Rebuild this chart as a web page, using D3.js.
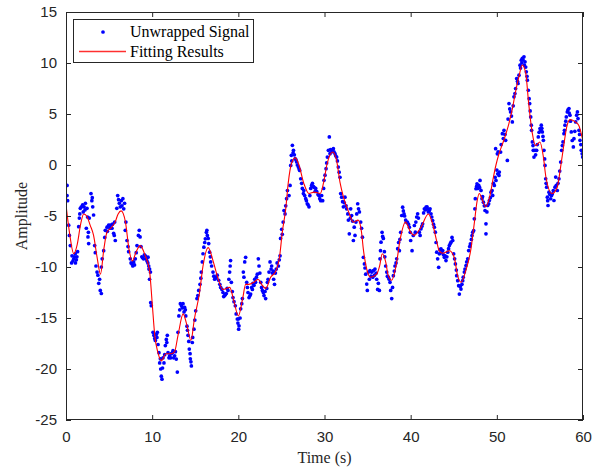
<!DOCTYPE html>
<html><head><meta charset="utf-8">
<script src="https://cdn.jsdelivr.net/npm/d3@7"></script>
<style>body{margin:0;background:#fff}svg{display:block}</style>
</head><body><svg id="c" width="601" height="468"></svg>
<script>
const xTicks=[0,10,20,30,40,50,60];
const yTicks=[-25,-20,-15,-10,-5,0,5,10,15];
const legendLabels=["Unwrapped Signal","Fitting Results"];
const xLabel="Time (s)", yLabel="Amplitude";

const fitTime=[0,0.4,0.9,1.3,1.7,2.05,2.4,2.8,3.2,3.6,4.0,4.4,4.75,5.3,5.7,6.05,6.4,6.9,7.3,7.7,8.1,8.6,9.2,9.7,10.0,10.3,10.7,11.06,11.6,12.2,12.6,13.0,13.6,14.0,14.5,14.9,15.5,15.9,16.5,17.1,17.6,18.2,19.0,19.5,20.0,20.5,20.85,21.2,21.8,22.3,22.7,23.2,23.75,24.3,24.8,25.1,25.5,25.8,26.15,26.6,27.0,27.6,28.2,28.8,29.5,29.9,30.3,30.95,31.4,31.8,32.2,32.8,33.35,33.9,34.3,34.5,34.9,35.35,36.05,36.4,36.7,37.1,37.4,37.8,38.3,38.8,39.4,40.0,40.4,41.2,42.05,42.55,43.0,43.3,43.7,44.5,45.05,45.45,45.85,46.4,47.0,47.4,47.7,47.96,48.35,48.7,49.2,49.6,49.9,50.25,50.8,51.4,51.8,52.2,52.6,52.95,53.35,53.7,54.1,54.5,55.0,55.4,55.7,56.4,57.0,57.4,57.8,58.1,58.5,59.15,59.5,59.9,60];
const fitAmp=[-3.9,-6.6,-8.7,-7.8,-5.8,-4.8,-5.0,-5.9,-6.9,-9.0,-10.7,-8.2,-6.6,-6.1,-5.6,-4.8,-4.5,-5.6,-8.2,-9.4,-8.6,-7.9,-8.9,-10.4,-13.5,-16.7,-18.5,-19.2,-18.5,-18.5,-18.3,-16.7,-14.6,-15.6,-17.2,-15.1,-12.5,-9.9,-8.1,-9.5,-11.0,-12.2,-12.0,-13.4,-14.8,-13.1,-11.7,-11.7,-11.5,-11.2,-11.7,-12.1,-11.0,-10.5,-8.9,-6.6,-4.3,-1.7,0.1,0.7,0.1,-1.8,-2.8,-2.66,-2.8,-1.7,0.1,1.27,0.45,-1.7,-3.15,-4.6,-5.6,-5.4,-6.6,-8.2,-10.2,-11.0,-10.7,-9.9,-8.7,-9.5,-10.85,-11.3,-9.9,-7.2,-5.6,-6.6,-6.9,-6.1,-4.8,-5.8,-7.4,-8.4,-8.65,-8.4,-9.05,-10.85,-11.5,-10.35,-8.2,-5.6,-3.6,-2.8,-3.5,-4.1,-3.0,-1.2,0.0,1.1,2.4,4.06,5.5,7.3,8.8,9.8,9.0,6.0,3.2,1.9,2.25,0.8,-1.2,-2.8,-2.2,-0.2,2.1,3.7,4.45,4.2,3.9,2.7,2.3];

const signal=[
[0.12,-2.0],[0.12,-3.0],[0.19,-3.5],[0.31,-5.9],[0.39,-6.9],[0.5,-7.9],[0.7,-8.9],[0.65,-9.6],[0.9,-9.2],[1.08,-8.7],[1.1,-9.6],[1.27,-9.0],[1.47,-6.05],[1.55,-5.2],[1.66,-4.25],[1.78,-4.1],[1.93,-3.9],[2.1,-4.1],[2.25,-3.75],[2.44,-4.25],[2.36,-6.2],[2.55,-7.05],[2.63,-7.7],[2.7,-5.2],[2.9,-2.8],[3.0,-3.5],[3.1,-4.1],[3.2,-4.9],[3.33,-7.9],[3.48,-9.9],[3.6,-10.5],[3.7,-10.8],[3.8,-11.6],[3.98,-12.3],[4.1,-12.6],[4.1,-10.0],[4.37,-8.4],[4.56,-6.4],[4.76,-6.1],[4.95,-5.9],[5.15,-5.9],[5.34,-6.2],[5.53,-6.7],[5.72,-7.4],[5.65,-5.6],[5.9,-4.25],[6.0,-3.0],[6.19,-3.75],[6.42,-3.5],[6.6,-3.3],[6.8,-3.75],[6.88,-6.4],[7.08,-7.4],[7.27,-8.5],[7.46,-9.2],[7.66,-9.7],[7.85,-9.5],[8.04,-9.2],[8.24,-7.9],[8.5,-6.4],[8.6,-7.05],[8.8,-9.0],[9.0,-9.2],[9.2,-8.9],[9.4,-9.4],[9.6,-9.9],[9.8,-10.5],
[0.8,-9.4],[1.0,-9.0],[1.2,-9.3],[1.35,-8.5],[1.6,-4.8],[2.0,-4.6],[2.2,-4.4],[2.5,-5.1],[2.6,-6.6],[3.05,-3.2],[3.4,-8.6],[3.9,-11.2],[4.2,-9.2],[4.5,-7.1],[4.8,-6.5],[5.1,-6.2],[5.4,-5.8],[5.6,-6.9],[6.1,-3.4],[6.3,-4.1],[6.5,-4.0],[6.7,-4.3],[6.95,-5.6],[7.2,-8.0],[7.55,-9.6],[7.75,-9.9],[7.95,-9.8],[8.15,-8.6],[8.4,-6.9],[8.7,-8.0],[8.9,-9.1],[9.1,-8.8],[9.3,-9.2],[9.5,-9.6],[9.7,-10.2],
[9.52,-9.04],[9.63,-10.2],[9.7,-11.2],[9.83,-13.5],[9.9,-13.8],[10.1,-16.4],[10.2,-16.7],[10.37,-17.2],[10.48,-16.6],[10.6,-16.4],[10.68,-17.6],[10.79,-18.4],[10.87,-19.4],[10.99,-20.0],[11.06,-20.7],[11.14,-21.0],[11.26,-18.9],[11.37,-19.4],[11.53,-17.7],[11.64,-17.1],[11.76,-16.7],[11.84,-18.4],[12.03,-18.7],[12.22,-18.5],[12.42,-18.2],[12.61,-18.7],[12.8,-19.03],[12.92,-20.3],[13.0,-16.4],[13.1,-14.8],[13.27,-13.6],[13.4,-13.8],[13.58,-13.6],[13.77,-13.96],[13.9,-14.8],[14.04,-15.8],[14.16,-16.7],[14.31,-18.05],[14.43,-19.0],[14.55,-19.7],[14.66,-17.4],[14.85,-16.1],[15.05,-14.3],[15.2,-13.1],[15.4,-12.3],[15.55,-11.7],[15.7,-10.5],[15.82,-9.5],[15.9,-8.7],[16.0,-8.06],[16.17,-7.24],[16.29,-6.6],[16.4,-6.9],[16.56,-7.7],[16.67,-8.55],[16.79,-9.5],[17.06,-10.5],[17.25,-11.2],[17.45,-11.0],[17.72,-11.3],[17.95,-12.0],[18.22,-12.5],[18.41,-12.8],[18.6,-12.6],[18.8,-12.3],[18.99,-10.5],[19.1,-9.37],[19.19,-11.5],[19.38,-13.0],[19.65,-13.8],[19.88,-15.1],[20.04,-16.1],
[10.3,-17.0],[10.55,-16.9],[10.95,-19.0],[11.2,-19.9],[11.45,-18.6],[11.7,-17.4],[11.95,-18.9],[12.15,-18.9],[12.35,-18.4],[12.5,-18.9],[12.7,-18.3],[13.2,-14.2],[13.5,-14.0],[13.7,-14.4],[13.85,-14.2],[14.1,-16.2],[14.25,-17.3],[14.4,-18.5],[14.5,-19.3],[14.7,-16.9],[14.95,-15.2],[15.3,-12.8],[15.65,-11.1],[16.1,-7.6],[16.35,-6.4],[16.5,-7.2],[16.75,-9.0],[16.9,-9.9],[17.15,-10.9],[17.35,-11.1],[17.55,-10.8],[17.85,-11.7],[18.1,-12.2],[18.3,-12.9],[18.5,-12.7],[18.7,-12.1],[18.9,-11.2],[19.05,-9.9],[19.3,-12.4],[19.5,-13.4],[19.75,-14.6],[19.95,-15.5],
[20.0,-15.1],[20.08,-15.76],[20.27,-14.1],[20.47,-13.1],[20.58,-10.5],[20.74,-9.5],[20.85,-9.05],[20.97,-11.5],[21.12,-12.5],[21.24,-13.0],[21.43,-12.65],[21.63,-12.2],[21.82,-11.8],[22.0,-11.5],[22.2,-10.7],[22.32,-9.2],[22.4,-9.9],[22.6,-11.5],[22.79,-12.3],[22.98,-12.8],[23.17,-13.1],[23.37,-11.5],[23.56,-10.5],[23.68,-9.5],[23.87,-9.9],[24.06,-10.4],[24.2,-11.7],[24.4,-10.2],[24.65,-9.9],[24.84,-8.9],[24.9,-7.2],[25.03,-6.3],[25.2,-5.6],[25.3,-4.46],[25.42,-4.8],[25.7,-2.5],[25.88,-3.0],[26.0,-2.0],[26.08,-0.04],[26.15,0.95],[26.27,1.93],[26.4,1.44],[26.6,0.62],[26.77,0.3],[26.97,-0.2],[27.12,-0.53],[27.24,-1.35],[27.43,-2.3],[27.55,-2.8],[27.82,-3.3],[28.0,-3.8],[28.2,-4.1],[28.4,-2.3],[28.6,-1.8],[28.8,-2.2],[28.98,-2.3],[29.36,-3.0],[29.56,-3.5],
[20.2,-15.0],[20.4,-13.6],[20.65,-11.0],[21.05,-12.0],[21.35,-12.8],[21.55,-12.0],[21.7,-11.6],[21.9,-11.2],[22.1,-11.0],[22.5,-10.6],[22.7,-12.0],[22.9,-12.5],[23.1,-12.4],[23.3,-12.1],[23.45,-11.2],[23.8,-10.2],[23.95,-10.6],[24.1,-11.2],[24.3,-10.6],[24.5,-9.6],[24.75,-9.3],[25.1,-6.8],[25.5,-4.0],[25.6,-3.3],[26.2,0.4],[26.35,1.2],[26.5,1.0],[26.7,0.5],[26.85,0.0],[27.05,-0.4],[27.35,-1.8],[27.6,-2.5],[27.7,-3.0],[27.9,-3.5],[28.1,-3.9],[28.3,-3.0],[28.5,-2.0],[28.7,-2.1],[28.9,-2.6],[29.1,-2.6],[29.25,-2.9],[29.45,-3.3],
[29.67,-2.99],[29.79,-3.5],[29.94,-1.5],[30.06,-1.0],[30.18,-0.36],[30.33,0.78],[30.45,1.44],[30.56,2.75],[30.64,1.11],[30.83,1.44],[31.03,1.6],[31.22,1.11],[31.41,0.78],[31.6,-0.2],[31.8,-1.2],[31.88,-2.8],[31.99,-3.15],[32.19,-4.1],[32.38,-3.15],[32.57,-4.3],[32.77,-5.4],[32.88,-6.75],[33.04,-4.3],[33.15,-4.95],[33.35,-7.4],[33.54,-6.9],[33.74,-4.8],[33.85,-3.8],[34.05,-4.6],[34.2,-5.6],[34.4,-7.08],[34.51,-9.05],[34.63,-9.7],[34.78,-10.7],[34.9,-11.67],[34.97,-12.3],[35.09,-10.5],[35.28,-10.36],[35.48,-10.5],[35.67,-10.36],[35.86,-10.2],[36.06,-11.2],[36.17,-12.2],[36.37,-12.3],[36.44,-9.2],[36.56,-7.57],[36.68,-6.6],[36.83,-7.2],[36.95,-8.5],[37.1,-9.9],[37.22,-10.5],[37.41,-11.0],[37.6,-11.5],[37.68,-12.3],[37.8,-13.1],[37.99,-10.85],[38.18,-9.9],[38.38,-9.2],[38.49,-8.2],[38.69,-8.4],[38.84,-6.6],[38.96,-4.95],[39.07,-4.13],[39.23,-4.8],[39.42,-5.4],[39.62,-5.6],[39.85,-6.1],[40.0,-7.4],[40.16,-8.4],[40.3,-6.9],
[29.9,-2.3],[30.25,0.2],[30.7,1.5],[30.9,1.3],[31.1,1.3],[31.3,0.9],[31.5,0.4],[31.7,-0.7],[32.1,-3.6],[32.3,-3.7],[32.5,-4.0],[32.7,-4.8],[33.0,-5.2],[33.25,-5.5],[33.45,-6.1],[33.65,-5.6],[33.95,-4.3],[34.3,-6.2],[34.7,-10.1],[35.2,-11.2],[35.4,-10.9],[35.6,-11.0],[35.8,-10.8],[36.0,-10.6],[36.25,-11.6],[36.5,-8.4],[36.75,-7.0],[37.0,-9.0],[37.3,-10.9],[37.5,-11.2],[37.9,-12.0],[38.1,-10.4],[38.3,-9.6],[38.6,-7.6],[38.75,-7.3],[39.15,-4.5],[39.3,-5.0],[39.5,-5.6],[39.75,-5.8],[39.95,-6.6],
[40.43,-5.93],[40.54,-6.59],[40.7,-5.1],[40.81,-4.79],[41.0,-6.59],[41.2,-6.26],[41.39,-5.77],[41.59,-4.3],[41.78,-4.13],[41.97,-4.3],[42.17,-4.46],[42.36,-4.79],[42.55,-5.44],[42.75,-6.1],[42.86,-6.59],[43.02,-8.55],[43.13,-9.2],[43.25,-10.03],[43.33,-8.72],[43.52,-8.23],[43.72,-8.39],[43.91,-9.05],[44.1,-9.37],[44.3,-8.55],[44.49,-7.9],[44.68,-7.57],[44.88,-7.4],[44.99,-8.72],[45.19,-9.7],[45.34,-10.85],[45.46,-11.34],[45.57,-11.83],[45.65,-12.65],[45.84,-12.16],[46.04,-11.34],[46.23,-10.5],[46.42,-9.86],[46.62,-9.2],[46.73,-8.39],[46.93,-7.74],[47.12,-6.92],[47.31,-6.43],[47.39,-5.28],[47.5,-3.3],[47.58,-2.33],[47.7,-1.84],[47.9,-2.0],[48.05,-1.51],[48.16,-2.49],[48.28,-3.3],[48.44,-3.64],[48.63,-4.46],[48.74,-5.77],[48.74,-6.75],[48.94,-3.97],[49.13,-3.48],[49.32,-2.66],[49.52,-2.98],[49.71,-2.0],[49.9,-1.51],[50.1,-0.86],[50.29,-0.69],
[40.6,-5.6],[40.9,-5.2],[41.1,-6.9],[41.3,-6.0],[41.5,-4.7],[41.7,-4.4],[41.9,-4.1],[42.05,-4.6],[42.25,-4.3],[42.45,-5.1],[42.65,-5.8],[42.95,-7.6],[43.4,-8.3],[43.6,-8.6],[43.8,-8.8],[44.0,-8.9],[44.2,-9.0],[44.4,-8.2],[44.6,-7.7],[44.8,-7.1],[45.1,-9.2],[45.3,-10.3],[45.75,-11.9],[45.95,-11.7],[46.1,-11.0],[46.3,-10.2],[46.5,-9.5],[46.85,-8.0],[47.05,-7.3],[47.2,-6.6],[47.45,-4.3],[47.65,-2.1],[47.8,-2.3],[48.0,-2.2],[48.35,-3.1],[48.55,-4.0],[48.85,-4.6],[49.05,-3.8],[49.25,-3.2],[49.45,-2.5],[49.6,-1.8],[49.8,-1.2],[50.0,-0.5],
[49.86,1.6],[50.06,1.1],[50.25,-1.02],[50.44,1.27],[50.64,3.07],[50.83,3.4],[51.02,2.42],[51.22,0.45],[51.41,6.02],[51.6,5.2],[51.8,4.22],[51.99,6.68],[52.18,7.5],[52.3,8.48],[52.46,7.99],[52.57,8.81],[52.69,9.79],[52.84,10.28],[52.96,10.45],[53.15,10.61],[53.27,10.12],[53.42,9.13],[53.54,8.32],[53.65,7.33],[53.81,6.02],[53.93,4.71],[54.04,3.4],[54.12,2.26],[54.23,1.44],[54.31,0.78],[54.43,1.44],[54.62,1.44],[54.81,2.75],[55.01,3.57],[55.16,3.9],[55.28,3.24],[55.4,2.42],[55.47,1.44],[55.59,-0.04],[55.67,-1.35],[55.78,-2.17],[55.86,-3.15],[55.94,-3.97],[56.05,-2.66],[56.25,-3.31],[56.44,-2.82],[56.63,-3.48],[56.75,-2.17],[56.83,-1.18],[57.02,-2.5],[57.21,-1.35],[57.41,0.29],[57.52,1.44],[57.68,2.26],[57.79,3.07],[57.91,3.9],[58.06,4.71],[58.18,5.2],[58.37,5.53],[58.49,4.88],[58.64,3.24],[58.88,1.77],[58.95,2.58],[59.15,4.22],[59.26,4.88],[59.42,4.55],[59.53,3.4],[59.65,2.42],[59.8,1.44],[59.96,0.78],
[50.15,1.3],[50.5,2.0],[50.75,2.6],[50.95,3.0],[51.3,4.5],[51.5,5.5],[51.7,4.8],[51.9,5.8],[52.1,7.0],[52.4,8.2],[52.75,9.5],[52.9,10.0],[53.05,10.3],[53.2,9.8],[53.35,9.6],[53.5,8.7],[53.75,6.5],[53.87,5.3],[54.0,3.9],[54.2,1.9],[54.5,1.0],[54.7,2.0],[54.9,3.2],[55.1,3.4],[55.22,3.6],[55.35,2.8],[55.55,0.6],[55.72,-1.8],[55.9,-3.5],[56.15,-2.9],[56.35,-3.0],[56.55,-2.5],[56.9,-2.0],[57.1,-1.8],[57.3,-0.6],[57.6,1.9],[57.85,3.4],[58.0,4.3],[58.25,5.4],[58.4,5.1],[58.55,4.3],[58.75,2.4],[59.05,3.3],[59.35,5.2],[59.6,3.0],[59.75,2.0],[59.9,1.1]
];

const W=601,H=468;
const m={left:66,right:583,top:12,bottom:420};
const axisColor="#262626";
const svg=d3.select("#c");
svg.append("rect").attr("width",W).attr("height",H).attr("fill","#fff");

const x=d3.scaleLinear().domain([0,60]).range([m.left,m.right]);
const y=d3.scaleLinear().domain([-25,15]).range([m.bottom,m.top]);

svg.append("defs").append("clipPath").attr("id","clip")
  .append("rect").attr("x",m.left).attr("y",m.top).attr("width",m.right-m.left).attr("height",m.bottom-m.top);

const plot=svg.append("g").attr("clip-path","url(#clip)");
plot.append("g").selectAll("circle").data(signal).join("circle")
  .attr("cx",d=>x(d[0])).attr("cy",d=>y(d[1])).attr("r",1.85).attr("fill","#0000ff");

const fit=fitTime.map((t,i)=>[t,fitAmp[i]]);
plot.append("path").datum(fit)
  .attr("d",d3.line().x(d=>x(d[0])).y(d=>y(d[1])).curve(d3.curveMonotoneX))
  .attr("fill","none").attr("stroke","#ff0000").attr("stroke-width",1.1);

// axes
const tickLen=5;
const fontTick="'Liberation Sans', Arial, sans-serif";
const fontSerif="'Liberation Serif', 'Times New Roman', serif";
const fmt=d=>String(d);
const gxB=svg.append("g").attr("transform",`translate(0,${m.bottom})`)
  .call(d3.axisBottom(x).tickValues(xTicks).tickSize(-tickLen).tickPadding(11).tickFormat(fmt));
const gxT=svg.append("g").attr("transform",`translate(0,${m.top})`)
  .call(d3.axisTop(x).tickValues(xTicks).tickSize(-tickLen).tickFormat(""));
const gyL=svg.append("g").attr("transform",`translate(${m.left},0)`)
  .call(d3.axisLeft(y).tickValues(yTicks).tickSize(-tickLen).tickPadding(9).tickFormat(fmt));
const gyR=svg.append("g").attr("transform",`translate(${m.right},0)`)
  .call(d3.axisRight(y).tickValues(yTicks).tickSize(-tickLen).tickFormat(""));
[gxB,gxT,gyL,gyR].forEach(g=>{
  g.select(".domain").remove();
  g.selectAll("line").attr("stroke",axisColor);
  g.selectAll("text").attr("fill",axisColor).style("font-family",fontTick).style("font-size","15px");
});
svg.append("rect").attr("x",m.left+0.5).attr("y",m.top+0.5)
  .attr("width",m.right-m.left-1).attr("height",m.bottom-m.top-1)
  .attr("fill","none").attr("stroke",axisColor).attr("stroke-width",1);

svg.append("text").attr("x",(m.left+m.right)/2).attr("y",463)
  .attr("text-anchor","middle").attr("fill",axisColor)
  .style("font-family",fontSerif).style("font-size","16px").text(xLabel);
svg.append("text").attr("transform",`translate(27,${(m.top+m.bottom)/2}) rotate(-90)`)
  .attr("text-anchor","middle").attr("fill",axisColor)
  .style("font-family",fontSerif).style("font-size","16px").text(yLabel);

// legend
const lg=svg.append("g");
lg.append("rect").attr("x",73.5).attr("y",19.5).attr("width",180).attr("height",43)
  .attr("fill","#fff").attr("stroke",axisColor).attr("stroke-width",1);
lg.append("circle").attr("cx",103).attr("cy",32).attr("r",1.85).attr("fill","#0000ff");
lg.append("line").attr("x1",79).attr("x2",126).attr("y1",51.5).attr("y2",51.5)
  .style("stroke","#ff3030").style("stroke-width","1.4px");
lg.selectAll("text.lab").data(legendLabels).join("text").attr("class","lab")
  .attr("x",130).attr("y",(d,i)=>37+i*20)
  .attr("fill","#000").style("font-family",fontSerif).style("font-size","16px").text(d=>d);
</script></body></html>
